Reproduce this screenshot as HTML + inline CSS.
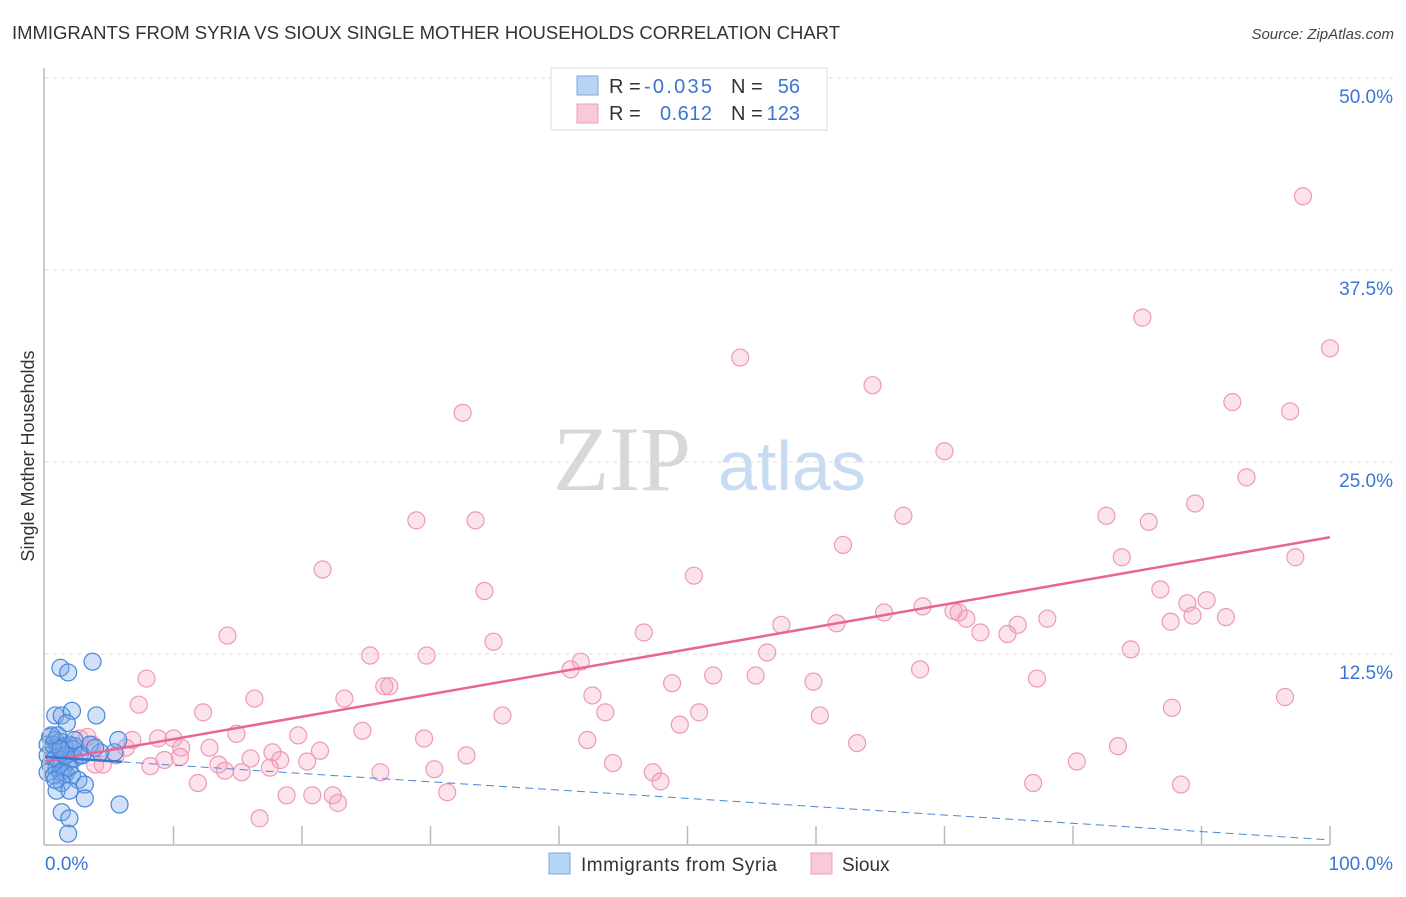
<!DOCTYPE html>
<html><head><meta charset="utf-8"><style>
body{margin:0;background:#fff;font-family:"Liberation Sans",sans-serif;}
</style></head><body>
<svg width="1406" height="892" xmlns="http://www.w3.org/2000/svg" font-family="Liberation Sans, sans-serif">
<text x="12" y="39" font-size="18.5" fill="#333" textLength="828">IMMIGRANTS FROM SYRIA VS SIOUX SINGLE MOTHER HOUSEHOLDS CORRELATION CHART</text>
<text x="1394" y="39" font-size="15" fill="#444" text-anchor="end" font-style="italic">Source: ZipAtlas.com</text>
<text x="553" y="490" font-size="92" fill="#d8d8d8" font-family="Liberation Serif, serif">ZIP</text>
<text x="718" y="490" font-size="70" fill="#c9dbf3">atlas</text>
<text transform="translate(34,456) rotate(-90)" font-size="18" fill="#333" text-anchor="middle">Single Mother Households</text>
<g id="grid"></g><g id="pts"></g><g id="lines"></g>
<line x1="44" y1="68" x2="44" y2="845" stroke="#bbb" stroke-width="1.5"/>
<line x1="44" y1="845" x2="1330" y2="845" stroke="#bbb" stroke-width="1.5"/>
<text x="45" y="870" font-size="19" fill="#3a75d4">0.0%</text>
<text x="1393" y="870" font-size="19" fill="#3a75d4" text-anchor="end">100.0%</text>
<g>
<rect x="551" y="68" width="276" height="62" fill="#fff" stroke="#ddd"/>
<rect x="577" y="76" width="21" height="19" fill="#b9d3f5" stroke="#7aa7e3"/>
<rect x="577" y="104" width="21" height="19" fill="#fac9d8" stroke="#ef9fb9"/>
<text x="609" y="93" font-size="20" fill="#333">R = </text>
<text x="712" y="93" font-size="20" fill="#3a75d4" text-anchor="end" textLength="68">-0.035</text>
<text x="731" y="93" font-size="20" fill="#333">N =</text>
<text x="800" y="93" font-size="20" fill="#3a75d4" text-anchor="end">56</text>
<text x="609" y="120" font-size="20" fill="#333">R = </text>
<text x="712" y="120" font-size="20" fill="#3a75d4" text-anchor="end" textLength="52">0.612</text>
<text x="731" y="120" font-size="20" fill="#333">N =</text>
<text x="800" y="120" font-size="20" fill="#3a75d4" text-anchor="end">123</text>
</g>
<g>
<rect x="549" y="853" width="21" height="21" fill="#b9d3f5" stroke="#7aa7e3"/>
<text x="581" y="871" font-size="19" fill="#333" textLength="196">Immigrants from Syria</text>
<rect x="811" y="853" width="21" height="21" fill="#fac9d8" stroke="#ef9fb9"/>
<text x="842" y="871" font-size="19" fill="#333">Sioux</text>
</g>
</svg>
<script>
const yTicks=[12.5,25,37.5,50];
const yTickLabels=["12.5%","25.0%","37.5%","50.0%"];
const siouxX=[97.9,85.4,100,54.1,64.4,32.5,92.4,96.9,70.0,93.5,28.9,33.5,82.6,85.9,89.5,66.8,62.1,83.8,97.3,21.6,50.5,34.2,86.8,88.9,90.4,87.6,89.3,91.9,68.3,70.7,71.1,71.7,65.3,61.6,57.3,72.8,74.9,75.7,78.0,46.6,14.2,34.9,25.3,29.7,41.7,40.9,56.2,84.5,52.0,55.3,68.1,7.9,26.4,26.8,48.8,59.8,77.2,16.3,23.3,42.6,96.5,7.3,12.3,35.6,43.6,50.9,60.3,87.7,24.7,14.9,2.7,6.8,8.8,10.0,19.7,29.5,42.2,49.4,63.2,83.5,10.6,12.8,6.3,5.5,9.3,10.5,17.7,21.4,32.8,16.0,18.3,20.4,13.5,3.9,4.5,8.2,14.0,15.3,17.5,26.1,30.3,44.2,47.3,80.3,11.9,18.8,20.8,22.4,22.8,31.3,47.9,76.9,88.4,16.7,3.3,1.9,0.8,1.6,3.7,1.2];
const siouxY=[42.3,34.4,32.4,31.8,30.0,28.2,28.9,28.3,25.7,24.0,21.2,21.2,21.5,21.1,22.3,21.5,19.6,18.8,18.8,18.0,17.6,16.6,16.7,15.8,16.0,14.6,15.0,14.9,15.6,15.3,15.2,14.8,15.2,14.5,14.4,13.9,13.8,14.4,14.8,13.9,13.7,13.3,12.4,12.4,12.0,11.5,12.6,12.8,11.1,11.1,11.5,10.9,10.4,10.4,10.6,10.7,10.9,9.6,9.6,9.8,9.7,9.2,8.7,8.5,8.7,8.7,8.5,9.0,7.5,7.3,7.0,6.9,7.0,7.0,7.2,7.0,6.9,7.9,6.7,6.5,6.4,6.4,6.4,5.9,5.6,5.8,6.1,6.2,5.9,5.7,5.6,5.5,5.3,5.3,5.3,5.2,4.9,4.8,5.1,4.8,5.0,5.4,4.8,5.5,4.1,3.3,3.3,3.3,2.8,3.5,4.2,4.1,4.0,1.8,7.1,6.5,6.9,6.3,6.6,5.6];
const syriaX=[1.2,1.8,3.7,0.8,1.3,2.1,1.7,4.0,0.4,0.8,1.2,0.2,0.5,1.0,1.5,1.9,2.3,0.2,0.8,1.3,1.8,2.3,2.7,0.4,0.9,1.4,1.9,0.2,0.7,1.2,1.6,2.1,2.6,3.1,1.3,0.9,1.9,3.1,5.7,5.4,5.8,1.3,1.9,1.8,0.6,1.0,2.2,2.9,4.3,3.5,1.6,2.3,0.5,3.9,1.2,0.8];
const syriaY=[11.6,11.3,12.0,8.5,8.5,8.8,8.0,8.5,7.1,6.9,6.8,6.6,6.3,6.4,6.5,6.6,6.5,5.9,5.7,5.6,5.5,5.7,5.9,5.3,5.1,4.9,5.1,4.8,4.6,4.8,4.7,4.6,4.3,4.0,4.1,3.6,3.6,3.1,6.9,6.1,2.7,2.2,1.8,0.8,6.6,7.2,6.3,5.9,6.1,6.6,5.9,6.9,7.2,6.4,6.3,4.3];
const siouxTrend=[5.5,20.1];
const syriaTrend=[5.8,0.4];
const NS="http://www.w3.org/2000/svg";
const sx=v=>45+v*12.85, sy=v=>846-v*15.36;
function mk(t,a,p){const e=document.createElementNS(NS,t);for(const k in a)e.setAttribute(k,a[k]);p.appendChild(e);return e;}
const grid=document.getElementById('grid');
yTicks.forEach((t,i)=>{
 const l=mk('line',{x1:45,x2:1395,y1:sy(t),y2:sy(t),stroke:'#ddd','stroke-dasharray':'4 4'},grid);
 
 
 const tx=mk('text',{x:1393,y:sy(t)+25,'font-size':19,fill:'#3a75d4','text-anchor':'end'},grid);
 tx.textContent=yTickLabels[i];
 
 
});
for(let i=1;i<=10;i++){
 const l=mk('line',{x1:sx(i*10),x2:sx(i*10),y1:826,y2:845,stroke:'#bbb','stroke-width':1.5},grid);
 
 
}
const pts=document.getElementById('pts');
siouxX.forEach((x,i)=>{
 const c=mk('circle',{cx:sx(x),cy:sy(siouxY[i]),r:8.5,fill:'rgba(245,160,190,0.3)',stroke:'#ec9ab6','stroke-width':1.2},pts);
 
 
});
syriaX.forEach((x,i)=>{
 const c=mk('circle',{cx:sx(x),cy:sy(syriaY[i]),r:8.5,fill:'rgba(120,170,235,0.35)',stroke:'#4a86d8','stroke-width':1.2},pts);
 
 
});
const lines=document.getElementById('lines');
const pl=mk('line',{x1:sx(0),y1:sy(siouxTrend[0]),x2:sx(100),y2:sy(siouxTrend[1]),stroke:'#e8649a','stroke-width':2.5},lines);


const bl=mk('line',{x1:sx(0),y1:sy(syriaTrend[0]),x2:sx(100),y2:sy(syriaTrend[1]),stroke:'#4a86d8','stroke-width':1,'stroke-dasharray':'8 5'},lines);


const bs=mk('line',{x1:sx(0),y1:sy(syriaTrend[0]),x2:sx(6),y2:sy(syriaTrend[0]+(syriaTrend[1]-syriaTrend[0])*0.06),stroke:'#3a75d4','stroke-width':2.5},lines);


</script>
</body></html>
